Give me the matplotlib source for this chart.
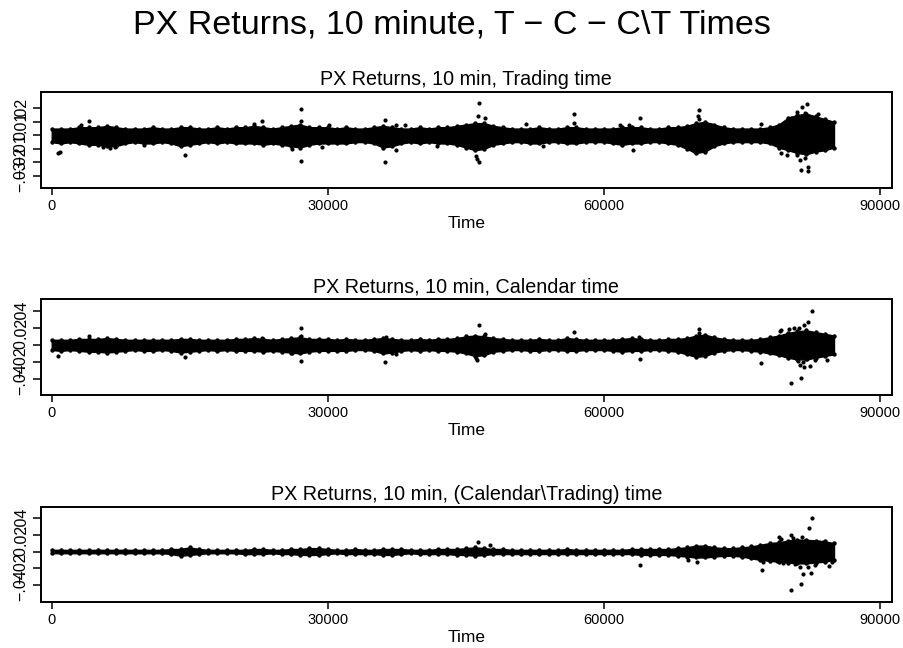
import matplotlib
matplotlib.use("Agg")
import matplotlib.pyplot as plt
import numpy as np

plt.rcParams['font.family'] = ['Liberation Sans', 'DejaVu Sans']

# knots of the dense band (time, every 1000) and band extents (x 0.001)
band_t = list(range(0, 86000, 1000))

trading_hi = [5, 5, 5, 6, 6, 6, 7, 6, 5, 5,
              5, 6, 5, 5, 6, 6, 5, 5, 6, 5,
              6, 6, 7, 6, 5, 6, 7, 8, 6, 6,
              6, 5, 6, 5, 5, 6, 7, 6, 5, 5,
              6, 5, 6, 6, 7, 8, 9, 9, 7, 6,
              5, 5, 5, 6, 5, 5, 6, 6, 5, 5,
              5, 5, 6, 6, 6, 5, 5, 6, 6, 7,
              9, 10, 8, 6, 5, 5, 5, 5, 6, 8,
              13, 15, 16, 14, 12, 10]
trading_lo = [-5, -6, -5, -6, -7, -7, -8, -8, -6, -5,
              -6, -6, -5, -6, -8, -7, -6, -5, -6, -5,
              -6, -6, -6, -7, -6, -7, -8, -9, -7, -6,
              -6, -6, -6, -5, -5, -6, -9, -8, -6, -5,
              -6, -5, -6, -6, -7, -9, -11, -10, -7, -6,
              -5, -5, -6, -6, -5, -5, -6, -6, -5, -5,
              -5, -6, -7, -6, -6, -5, -5, -6, -7, -10,
              -13, -12, -8, -6, -5, -5, -5, -5, -6, -9,
              -11, -13, -14, -12, -11, -9]

calendar_hi = [6, 6, 6, 7, 7, 7, 8, 7, 6, 6,
               6, 6, 6, 6, 7, 7, 6, 6, 6, 6,
               7, 7, 8, 7, 6, 7, 8, 9, 7, 7,
               7, 6, 7, 6, 6, 7, 8, 7, 6, 6,
               7, 6, 7, 7, 8, 10, 11, 10, 8, 7,
               6, 6, 6, 7, 6, 6, 8, 7, 6, 6,
               6, 6, 7, 8, 7, 6, 6, 7, 7, 8,
               11, 12, 9, 7, 6, 6, 6, 7, 9, 11,
               14, 16, 17, 15, 13, 11]
calendar_lo = [-6, -7, -6, -7, -8, -8, -9, -8, -7, -6,
               -7, -7, -6, -7, -9, -8, -7, -6, -7, -6,
               -7, -7, -7, -8, -7, -8, -9, -10, -8, -7,
               -7, -7, -7, -6, -6, -7, -10, -9, -7, -6,
               -7, -6, -7, -7, -8, -10, -13, -12, -8, -7,
               -6, -6, -7, -7, -6, -6, -7, -7, -6, -6,
               -6, -7, -8, -7, -7, -6, -6, -7, -8, -11,
               -14, -13, -9, -7, -6, -6, -7, -8, -10, -12,
               -15, -17, -17, -15, -13, -11]

cnt_hi = [2, 2, 2, 2, 2, 2, 2, 2, 2, 2,
          2, 2, 2, 3, 3, 5, 3, 2, 2, 2,
          2, 2, 3, 3, 2, 2, 3, 3, 4, 4,
          3, 2, 2, 3, 2, 2, 3, 3, 3, 2,
          2, 2, 3, 3, 3, 4, 5, 4, 3, 3,
          2, 2, 2, 2, 2, 2, 3, 2, 2, 2,
          2, 2, 2, 3, 3, 3, 3, 3, 4, 5,
          7, 7, 5, 4, 4, 5, 6, 8, 10, 11,
          13, 14, 14, 13, 12, 10]
cnt_lo = [-2, -2, -2, -2, -2, -2, -2, -2, -2, -2,
          -2, -2, -2, -3, -5, -4, -3, -2, -2, -2,
          -2, -3, -3, -3, -2, -3, -3, -4, -4, -4,
          -3, -2, -3, -3, -3, -3, -4, -4, -3, -2,
          -3, -3, -3, -3, -4, -4, -5, -4, -3, -3,
          -3, -3, -3, -3, -3, -3, -3, -3, -3, -3,
          -3, -3, -3, -3, -4, -4, -4, -4, -5, -6,
          -7, -7, -6, -5, -5, -6, -8, -10, -11, -12,
          -13, -14, -14, -13, -12, -10]

# isolated points outside the band (time, return)
trading_out_t = [720, 950, 3140, 4100, 5600, 6300, 6900, 10050, 14440, 22000,
                 22870, 26130, 27040, 27040, 27040, 29400, 30100, 36220, 36200, 37380,
                 37400, 38400, 41850, 46060, 46200, 46390, 46390, 46300, 47120, 51500,
                 53400, 56700, 56800, 61800, 62700, 63200, 63880, 70300, 70250, 70300,
                 69800, 71600, 77100, 79230, 79900, 80950, 81310, 81900, 81400, 82150,
                 82150, 81490, 82040, 81000, 80300, 83300, 81800]
trading_out_v = [-0.013, -0.0125, 0.0074, 0.0109, -0.0085, -0.009, -0.0085, -0.0068, -0.0143, 0.0085,
                 0.0109, -0.0101, 0.0198, 0.0109, -0.0193, -0.0089, 0.0075, -0.0197, 0.011, -0.011,
                 0.008, 0.008, -0.008, -0.0156, -0.0175, -0.0197, 0.024, 0.0141, 0.0129, 0.0085,
                 -0.0078, 0.0158, 0.0091, 0.0075, 0.0075, -0.0108, 0.013, 0.019, 0.0141, 0.012,
                 -0.0115, 0.008, 0.0085, -0.013, -0.0145, -0.0148, -0.018, -0.0168, -0.0254, -0.026,
                 -0.0236, 0.0207, 0.0235, 0.0175, 0.013, 0.0158, 0.0165]

calendar_out_t = [720, 4100, 14440, 22870, 26130, 27040, 27040, 27040, 36220, 36300,
                  37380, 46060, 46200, 46390, 47120, 56700, 63880, 63800, 70300, 70300,
                  77020, 79090, 79270, 80100, 80700, 81200, 81700, 82220, 82650, 81000,
                  80330, 81420, 80850, 81100, 81310, 81700, 81650, 82400, 82100, 82940,
                  84280]
calendar_out_v = [-0.0129, 0.0105, -0.0144, 0.0085, -0.010, 0.0195, 0.0109, -0.0187, -0.0195, 0.009,
                  -0.011, -0.015, -0.0175, 0.0237, 0.0125, 0.0156, -0.016, 0.009, 0.0187, 0.0137,
                  -0.0207, 0.016, 0.018, 0.019, 0.02, 0.0195, 0.0234, 0.0273, 0.040, 0.013,
                  -0.0448, -0.039, -0.0156, -0.0187, -0.0234, -0.0253, -0.02, -0.0245, -0.0165, -0.0176,
                  -0.0176]

cnt_out_t = [46280, 47650, 63880, 69100, 70100, 77200, 79250, 79050, 80330, 80500,
             81490, 82290, 82650, 80330, 81420, 81670, 82500, 81310, 82200, 82940,
             80760, 84500, 84800, 78800, 79500, 77300, 83400, 83800]
cnt_out_v = [0.0107, 0.008, -0.0157, -0.0095, -0.0118, -0.0217, 0.0145, 0.017, 0.0198, 0.016,
             0.017, 0.0277, 0.040, -0.0453, -0.0386, -0.0267, -0.0249, -0.0178, -0.018, -0.0165,
             -0.015, -0.0175, -0.012, -0.011, -0.013, -0.012, 0.0115, 0.0115]

panels = [
    ("PX Returns, 10 min, Trading time", trading_hi, trading_lo, trading_out_t, trading_out_v,
     [-0.03, -0.02, -0.01, 0, 0.01, 0.02], ["\u2212.03", "\u2212.02", "\u2212.01", "0", ".01", ".02"],
     (-0.0387, 0.032), [0.045, 0.7103, 0.9414, 0.1477]),
    ("PX Returns, 10 min, Calendar time", calendar_hi, calendar_lo, calendar_out_t, calendar_out_v,
     [-0.04, -0.02, 0, 0.02, 0.04], ["\u2212.04", "\u2212.02", "0", ".02", ".04"],
     (-0.0587, 0.0537), [0.045, 0.3904, 0.9414, 0.1481]),
    ("PX Returns, 10 min, (Calendar\\Trading) time", cnt_hi, cnt_lo, cnt_out_t, cnt_out_v,
     [-0.04, -0.02, 0, 0.02, 0.04], ["\u2212.04", "\u2212.02", "0", ".02", ".04"],
     (-0.0594, 0.053), [0.045, 0.0714, 0.9414, 0.1466]),
]

fig = plt.figure(figsize=(9.04, 6.48), dpi=100)
fig.text(0.5, 0.961, "PX Returns, 10 minute, T \u2212 C \u2212 C\\T Times",
         ha='center', va='center', fontsize=24.5)

for title, hi, lo, out_t, out_v, yt, ytl, ylim, pos in panels:
    ax = fig.add_axes(pos)
    hi = np.array(hi) * 0.001
    lo = np.array(lo) * 0.001
    ax.fill_between(band_t, lo, hi, color='black', linewidth=1.0, edgecolor='black')
    ax.scatter(band_t, hi, s=10, color='black', linewidths=0)
    ax.scatter(band_t, lo, s=10, color='black', linewidths=0)
    ax.scatter(out_t, out_v, s=9, color='black', linewidths=0)
    ax.set_xlim(-1200, 91270)
    ax.set_ylim(*ylim)
    ax.set_xticks([0, 30000, 60000, 90000])
    ax.set_xticklabels(["0", "30000", "60000", "90000"], fontsize=10.5)
    ax.set_yticks(yt)
    ax.set_yticklabels(ytl, fontsize=11.5, rotation=90, va='center')
    ax.tick_params(axis='x', length=5, width=1.1, pad=3)
    ax.tick_params(axis='y', length=6, width=1.1, pad=3)
    for s in ax.spines.values():
        s.set_linewidth(1.4)
    ax.set_xlabel("Time", fontsize=12.5, labelpad=2)
    ax.set_title(title, fontsize=14.2, pad=5)

fig.savefig("out.png", dpi=100)
